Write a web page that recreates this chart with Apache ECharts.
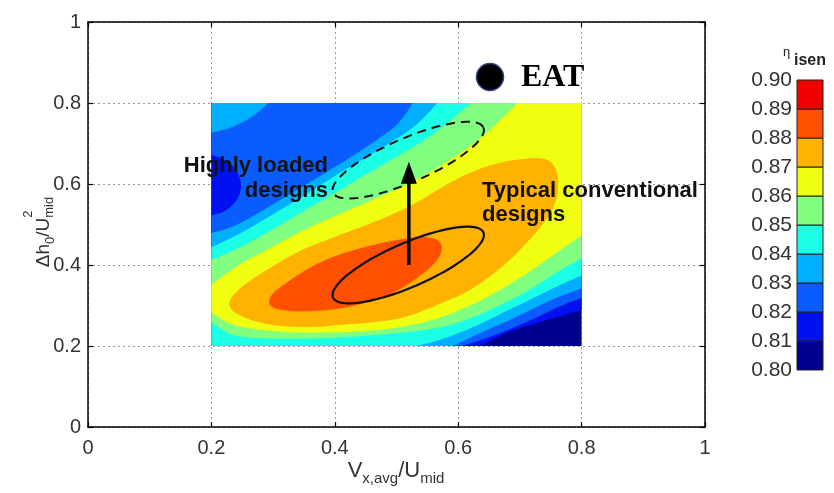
<!DOCTYPE html>
<html>
<head>
<meta charset="utf-8">
<script src="https://cdn.jsdelivr.net/npm/echarts@6/dist/echarts.min.js"></script>
<style>
  html, body { margin: 0; padding: 0; background: #fff; }
  #chart { width: 834px; height: 493px; }
</style>
</head>
<body>
<div id="chart"></div>
<script>
// ---- efficiency levels and band colours (jet-like, 10 bands) ----
const levels = [0.80, 0.81, 0.82, 0.83, 0.84, 0.85, 0.86, 0.87, 0.88, 0.89, 0.90];
const bandColors = ['#00008f', '#0010f0', '#0a5cff', '#00b0ff', '#1affe6',
                    '#80ff80', '#f0ff10', '#ffb200', '#ff5000', '#f00000'];

// ---- axes ----
const xTickLabels = ['0', '0.2', '0.4', '0.6', '0.8', '1'];
const yTickLabels = ['0', '0.2', '0.4', '0.6', '0.8', '1'];
const mapX = [0.2, 0.8];   // extent of the efficiency map (flow coefficient)
const mapY = [0.2, 0.8];   // extent of the efficiency map (stage loading)

// ---- regions where eta_isen >= level, [flow coeff, stage loading] ----
const region080 = [[0.2, 0.2], [0.8, 0.2], [0.8, 0.8], [0.2, 0.8]];
const region081 = [[0.18, 0.82], [0.82, 0.82], [0.82, 0.283], [0.80, 0.289], [0.765, 0.274], [0.733, 0.259],
  [0.684, 0.237], [0.660, 0.220], [0.639, 0.202], [0.60, 0.18], [0.18, 0.18]];
const region082 = [[0.18, 0.82], [0.82, 0.82], [0.82, 0.313], [0.801, 0.319], [0.765, 0.299], [0.716, 0.262],
  [0.652, 0.222], [0.611, 0.202], [0.554, 0.175], [0.18, 0.175], [0.18, 0.523], [0.2, 0.523], [0.222, 0.531],
  [0.243, 0.560], [0.250, 0.598], [0.240, 0.640], [0.217, 0.664], [0.2, 0.672], [0.18, 0.672]];
const region083Corner = [[0.18, 0.82], [0.295, 0.82], [0.292, 0.80], [0.284, 0.788], [0.270, 0.770],
  [0.254, 0.755], [0.235, 0.741], [0.214, 0.731], [0.2, 0.727], [0.18, 0.726]];
const region083 = [[0.535, 0.82], [0.82, 0.82], [0.82, 0.338], [0.801, 0.343], [0.765, 0.323], [0.733, 0.301],
  [0.684, 0.264], [0.635, 0.232], [0.595, 0.202], [0.538, 0.17], [0.18, 0.17], [0.18, 0.479], [0.2, 0.479],
  [0.230, 0.491], [0.263, 0.516], [0.311, 0.560], [0.360, 0.605], [0.408, 0.649], [0.441, 0.681],
  [0.473, 0.714], [0.498, 0.741], [0.514, 0.770], [0.527, 0.802]];
const region084 = [[0.577, 0.82], [0.82, 0.82], [0.82, 0.37], [0.801, 0.375], [0.765, 0.351], [0.716, 0.314],
  [0.668, 0.279], [0.622, 0.244], [0.571, 0.215], [0.538, 0.202], [0.473, 0.178], [0.18, 0.17], [0.18, 0.444],
  [0.2, 0.444], [0.222, 0.459], [0.254, 0.484], [0.303, 0.528], [0.352, 0.573], [0.400, 0.620], [0.449, 0.664],
  [0.489, 0.701], [0.522, 0.733], [0.546, 0.765], [0.567, 0.802]];
const region085 = [[0.632, 0.82], [0.82, 0.82], [0.82, 0.41], [0.801, 0.417], [0.765, 0.388], [0.716, 0.338],
  [0.668, 0.301], [0.622, 0.269], [0.571, 0.244], [0.506, 0.232], [0.405, 0.220], [0.311, 0.217], [0.243, 0.222],
  [0.222, 0.235], [0.2, 0.259], [0.18, 0.27], [0.18, 0.412], [0.2, 0.412], [0.222, 0.427], [0.254, 0.449],
  [0.303, 0.491], [0.352, 0.536], [0.408, 0.585], [0.457, 0.630], [0.506, 0.672], [0.546, 0.709],
  [0.579, 0.746], [0.603, 0.778], [0.622, 0.802]];
const region086 = [[0.707, 0.82], [0.82, 0.82], [0.82, 0.47], [0.801, 0.474], [0.765, 0.437], [0.716, 0.383],
  [0.668, 0.338], [0.622, 0.301], [0.571, 0.269], [0.514, 0.247], [0.441, 0.235], [0.344, 0.232], [0.295, 0.237],
  [0.243, 0.247], [0.217, 0.264], [0.2, 0.284], [0.18, 0.30], [0.18, 0.34], [0.2, 0.351], [0.214, 0.368],
  [0.246, 0.402], [0.295, 0.442], [0.352, 0.489], [0.408, 0.526], [0.473, 0.568], [0.525, 0.605],
  [0.571, 0.644], [0.611, 0.684], [0.652, 0.733], [0.676, 0.770], [0.697, 0.802]];
const region087 = [[0.227, 0.301], [0.233, 0.323], [0.250, 0.348], [0.271, 0.370], [0.295, 0.393], [0.344, 0.437],
  [0.408, 0.474], [0.473, 0.511], [0.530, 0.551], [0.571, 0.590], [0.606, 0.620], [0.660, 0.652], [0.713, 0.664],
  [0.741, 0.664], [0.757, 0.647], [0.763, 0.610], [0.760, 0.560], [0.746, 0.516], [0.713, 0.457], [0.676, 0.400],
  [0.622, 0.338], [0.571, 0.304], [0.514, 0.269], [0.457, 0.257], [0.408, 0.252], [0.376, 0.247], [0.327, 0.247],
  [0.295, 0.252], [0.263, 0.264], [0.238, 0.281]];
const region088 = [[0.292, 0.309], [0.298, 0.328], [0.314, 0.348], [0.344, 0.380], [0.379, 0.410], [0.425, 0.435],
  [0.473, 0.454], [0.527, 0.469], [0.554, 0.469], [0.571, 0.459], [0.575, 0.437], [0.564, 0.405], [0.530, 0.363],
  [0.498, 0.333], [0.457, 0.309], [0.408, 0.291], [0.344, 0.284], [0.311, 0.289], [0.297, 0.296]];

const contourLayers = [
  { level: 0.80, pts: region080 },
  { level: 0.81, pts: region081 },
  { level: 0.82, pts: region082 },
  { level: 0.83, pts: region083Corner },
  { level: 0.83, pts: region083 },
  { level: 0.84, pts: region084 },
  { level: 0.85, pts: region085 },
  { level: 0.86, pts: region086 },
  { level: 0.87, pts: region087 },
  { level: 0.88, pts: region088 }
];

// ---- design regions (ellipses) and the trend arrow ----
const ellipseCentres = [[0.519, 0.400], [0.519, 0.659]];  // conventional, highly loaded
const ellipseMajor = [0.1219, 0.0805];
const ellipseMinor = [0.0141, -0.0499];
const arrowFrom = [0.52, 0.40];
const arrowTo = [0.52, 0.655];

// ---------- geometry helpers ----------
function chaikin(pts, iterations) {
  let p = pts;
  for (let k = 0; k < iterations; k++) {
    const q = [];
    for (let i = 0; i < p.length; i++) {
      const a = p[i], b = p[(i + 1) % p.length];
      q.push([0.75 * a[0] + 0.25 * b[0], 0.75 * a[1] + 0.25 * b[1]]);
      q.push([0.25 * a[0] + 0.75 * b[0], 0.25 * a[1] + 0.75 * b[1]]);
    }
    p = q;
  }
  return p;
}
// vertices on or beyond the map border stay sharp; the rest are rounded
function onBorder(p) {
  const e = 1e-6;
  return p[0] <= mapX[0] + e || p[0] >= mapX[1] - e || p[1] <= mapY[0] + e || p[1] >= mapY[1] - e;
}
function smoothRegion(pts, iterations) {
  const held = [];
  pts.forEach(p => { held.push(p); if (onBorder(p)) { held.push(p); held.push(p); } });
  return chaikin(held, iterations);
}
function cut(a, c, k, b) {
  const t = (b - a[k]) / (c[k] - a[k]);
  return [a[0] + t * (c[0] - a[0]), a[1] + t * (c[1] - a[1])];
}
function clipToMap(pts) {
  const planes = [[0, mapX[0], 1], [0, mapX[1], -1], [1, mapY[0], 1], [1, mapY[1], -1]];
  let out = pts;
  for (const [k, b, s] of planes) {
    const inp = out; out = [];
    for (let i = 0; i < inp.length; i++) {
      const cur = inp[i], prev = inp[(i + inp.length - 1) % inp.length];
      const cIn = (cur[k] - b) * s >= 0, pIn = (prev[k] - b) * s >= 0;
      if (cIn) { if (!pIn) out.push(cut(prev, cur, k, b)); out.push(cur); }
      else if (pIn) out.push(cut(prev, cur, k, b));
    }
  }
  return out;
}

// ---------- text measuring for sub/superscript labels ----------
const measureCtx = document.createElement('canvas').getContext('2d');
const SANS = '"Liberation Sans", Arial, sans-serif';
function textWidth(t, size, weight) {
  measureCtx.font = (weight || 'normal') + ' ' + size + 'px "Liberation Sans"';
  return measureCtx.measureText(t).width;
}
function scriptedText(parts, colour) {
  let x = 0, lastStart = 0;
  const children = [];
  parts.forEach(p => {
    const w = textWidth(p.t, p.size);
    const start = p.stack ? lastStart : x;
    children.push({
      type: 'text', x: start, y: p.shift - 0.35 * p.size, silent: true,
      style: { text: p.t, fontSize: p.size, fontFamily: SANS, fill: colour, align: 'left', verticalAlign: 'middle' }
    });
    if (p.stack) { x = Math.max(x, start + w); } else { lastStart = x; x += w; }
  });
  return { children, width: x };
}

const xName = scriptedText([
  { t: 'V', size: 22, shift: 0 },
  { t: 'x,avg', size: 15, shift: 5 },
  { t: '/U', size: 22, shift: 0 },
  { t: 'mid', size: 15, shift: 5 }
], '#333');
const yName = scriptedText([
  { t: '\u0394h', size: 19, shift: 0 },
  { t: '0', size: 13, shift: 5 },
  { t: '/U', size: 19, shift: 0 },
  { t: '2', size: 13, shift: -17 },
  { t: 'mid', size: 13, shift: 4, stack: true }
], '#333');

const chart = echarts.init(document.getElementById('chart'), null, { renderer: 'canvas' });

const boxLine = { show: true, onZero: false, lineStyle: { color: '#000', width: 1.5 } };
const boxTick = { show: true, inside: true, length: 5, lineStyle: { color: '#000', width: 1.2 } };
const gridDots = { show: true, lineStyle: { color: '#9a9a9a', type: [2, 3], width: 1 } };
const tickFont = { color: '#333', fontSize: 20, fontFamily: SANS };
const noteStyle = { fontSize: 22, fontWeight: 'bold', fontFamily: SANS, fill: '#111', verticalAlign: 'middle' };

chart.setOption({
  animation: false,
  backgroundColor: '#fff',
  grid: [
    { left: 88, top: 22, width: 617, height: 405, containLabel: false, outerBoundsMode: 'none' },
    { left: 797, top: 80, width: 26, height: 290, containLabel: false, outerBoundsMode: 'none' }
  ],
  xAxis: [
    { type: 'value', gridIndex: 0, position: 'bottom', min: 0, max: 1, interval: 0.2,
      axisLine: boxLine, axisTick: boxTick, splitLine: gridDots,
      axisLabel: Object.assign({ margin: 11, formatter: v => xTickLabels[Math.round(v / 0.2)] }, tickFont) },
    { type: 'value', gridIndex: 0, position: 'top', min: 0, max: 1, interval: 0.2,
      axisLine: boxLine, axisTick: boxTick, splitLine: { show: false }, axisLabel: { show: false } },
    { type: 'value', gridIndex: 1, min: 0, max: 1, show: false }
  ],
  yAxis: [
    { type: 'value', gridIndex: 0, position: 'left', min: 0, max: 1, interval: 0.2,
      axisLine: boxLine, axisTick: boxTick, splitLine: gridDots,
      axisLabel: Object.assign({ margin: 7, formatter: v => yTickLabels[Math.round(v / 0.2)] }, tickFont) },
    { type: 'value', gridIndex: 0, position: 'right', min: 0, max: 1, interval: 0.2,
      axisLine: boxLine, axisTick: boxTick, splitLine: { show: false }, axisLabel: { show: false } },
    { type: 'value', gridIndex: 1, position: 'left', min: 0.8, max: 0.9, interval: 0.01,
      axisLine: { show: false }, axisTick: { show: false }, splitLine: { show: false },
      axisLabel: { margin: 5, color: '#333', fontSize: 21, fontFamily: SANS, formatter: v => v.toFixed(2) } }
  ],
  series: [
    { // filled efficiency contours
      type: 'custom', xAxisIndex: 0, yAxisIndex: 0, z: 2, silent: true,
      data: contourLayers.map(() => [0.5, 0.5]),
      renderItem: (params, api) => {
        const layer = contourLayers[params.dataIndex];
        const poly = clipToMap(smoothRegion(layer.pts, 3));
        return {
          type: 'polygon',
          shape: { points: poly.map(p => api.coord(p)) },
          style: { fill: bandColors[levels.indexOf(layer.level)] }
        };
      }
    },
    { // design-space ellipses
      type: 'custom', xAxisIndex: 0, yAxisIndex: 0, z: 5, silent: true,
      data: ellipseCentres,
      renderItem: (params, api) => {
        const c = ellipseCentres[params.dataIndex];
        const pts = [];
        for (let i = 0; i <= 96; i++) {
          const t = i / 96 * Math.PI * 2;
          pts.push(api.coord([c[0] + ellipseMajor[0] * Math.cos(t) + ellipseMinor[0] * Math.sin(t),
                              c[1] + ellipseMajor[1] * Math.cos(t) + ellipseMinor[1] * Math.sin(t)]));
        }
        return {
          type: 'polyline', shape: { points: pts },
          style: { stroke: '#111', lineWidth: params.dataIndex === 0 ? 2.2 : 2,
                   lineDash: params.dataIndex === 0 ? null : [9, 6], fill: null }
        };
      }
    },
    { // loading trend arrow
      type: 'custom', xAxisIndex: 0, yAxisIndex: 0, z: 6, silent: true,
      data: [arrowFrom],
      renderItem: (params, api) => {
        const a = api.coord(arrowFrom), b = api.coord(arrowTo);
        const headLen = 22, headHalf = 8;
        return {
          type: 'group',
          children: [
            { type: 'line', shape: { x1: a[0], y1: a[1], x2: b[0], y2: b[1] + headLen - 2 },
              style: { stroke: '#000', lineWidth: 3.5 } },
            { type: 'polygon',
              shape: { points: [[b[0], b[1]], [b[0] - headHalf, b[1] + headLen], [b[0] + headHalf, b[1] + headLen]] },
              style: { fill: '#000' } }
          ]
        };
      }
    },
    { // colour bar
      type: 'custom', xAxisIndex: 2, yAxisIndex: 2, z: 2, silent: true,
      data: bandColors.map((c, i) => [0.5, levels[i]]),
      renderItem: (params, api) => {
        const i = params.dataIndex;
        const p1 = api.coord([0, levels[i + 1]]), p2 = api.coord([1, levels[i]]);
        return {
          type: 'rect',
          shape: { x: p1[0], y: p1[1], width: p2[0] - p1[0], height: p2[1] - p1[1] },
          style: { fill: bandColors[i], stroke: '#222', lineWidth: 1 }
        };
      }
    }
  ],
  graphic: [
    { type: 'group', x: 396 - xName.width / 2, y: 479, z: 100, children: xName.children },
    { type: 'group', x: 50, y: 232, rotation: Math.PI / 2, z: 100,
      children: [{ type: 'group', x: -yName.width / 2, y: 0, children: yName.children }] },
    { type: 'text', x: 328, y: 166, z: 100, silent: true,
      style: Object.assign({ text: 'Highly loaded', align: 'right' }, noteStyle) },
    { type: 'text', x: 328, y: 191, z: 100, silent: true,
      style: Object.assign({ text: 'designs', align: 'right' }, noteStyle) },
    { type: 'text', x: 482, y: 191, z: 100, silent: true,
      style: Object.assign({ text: 'Typical conventional', align: 'left' }, noteStyle) },
    { type: 'text', x: 482, y: 215, z: 100, silent: true,
      style: Object.assign({ text: 'designs', align: 'left' }, noteStyle) },
    { type: 'circle', shape: { cx: 490, cy: 77, r: 13.5 }, z: 100, silent: true,
      style: { fill: '#000', stroke: '#2a3f8a', lineWidth: 1.5 } },
    { type: 'text', x: 521, y: 78, z: 100, silent: true,
      style: { text: 'EAT', fontSize: 32, fontWeight: 'bold', fontFamily: '"Liberation Serif", "Times New Roman", serif', fill: '#000', align: 'left', verticalAlign: 'middle' } },
    { type: 'text', x: 783, y: 52, z: 100, silent: true,
      style: { text: '\u03b7', fontSize: 13, fontFamily: SANS, fill: '#222', align: 'left', verticalAlign: 'middle' } },
    { type: 'text', x: 794, y: 61, z: 100, silent: true,
      style: { text: 'isen', fontSize: 16, fontWeight: 'bold', fontFamily: SANS, fill: '#222', align: 'left', verticalAlign: 'middle' } }
  ]
});
</script>
</body>
</html>
